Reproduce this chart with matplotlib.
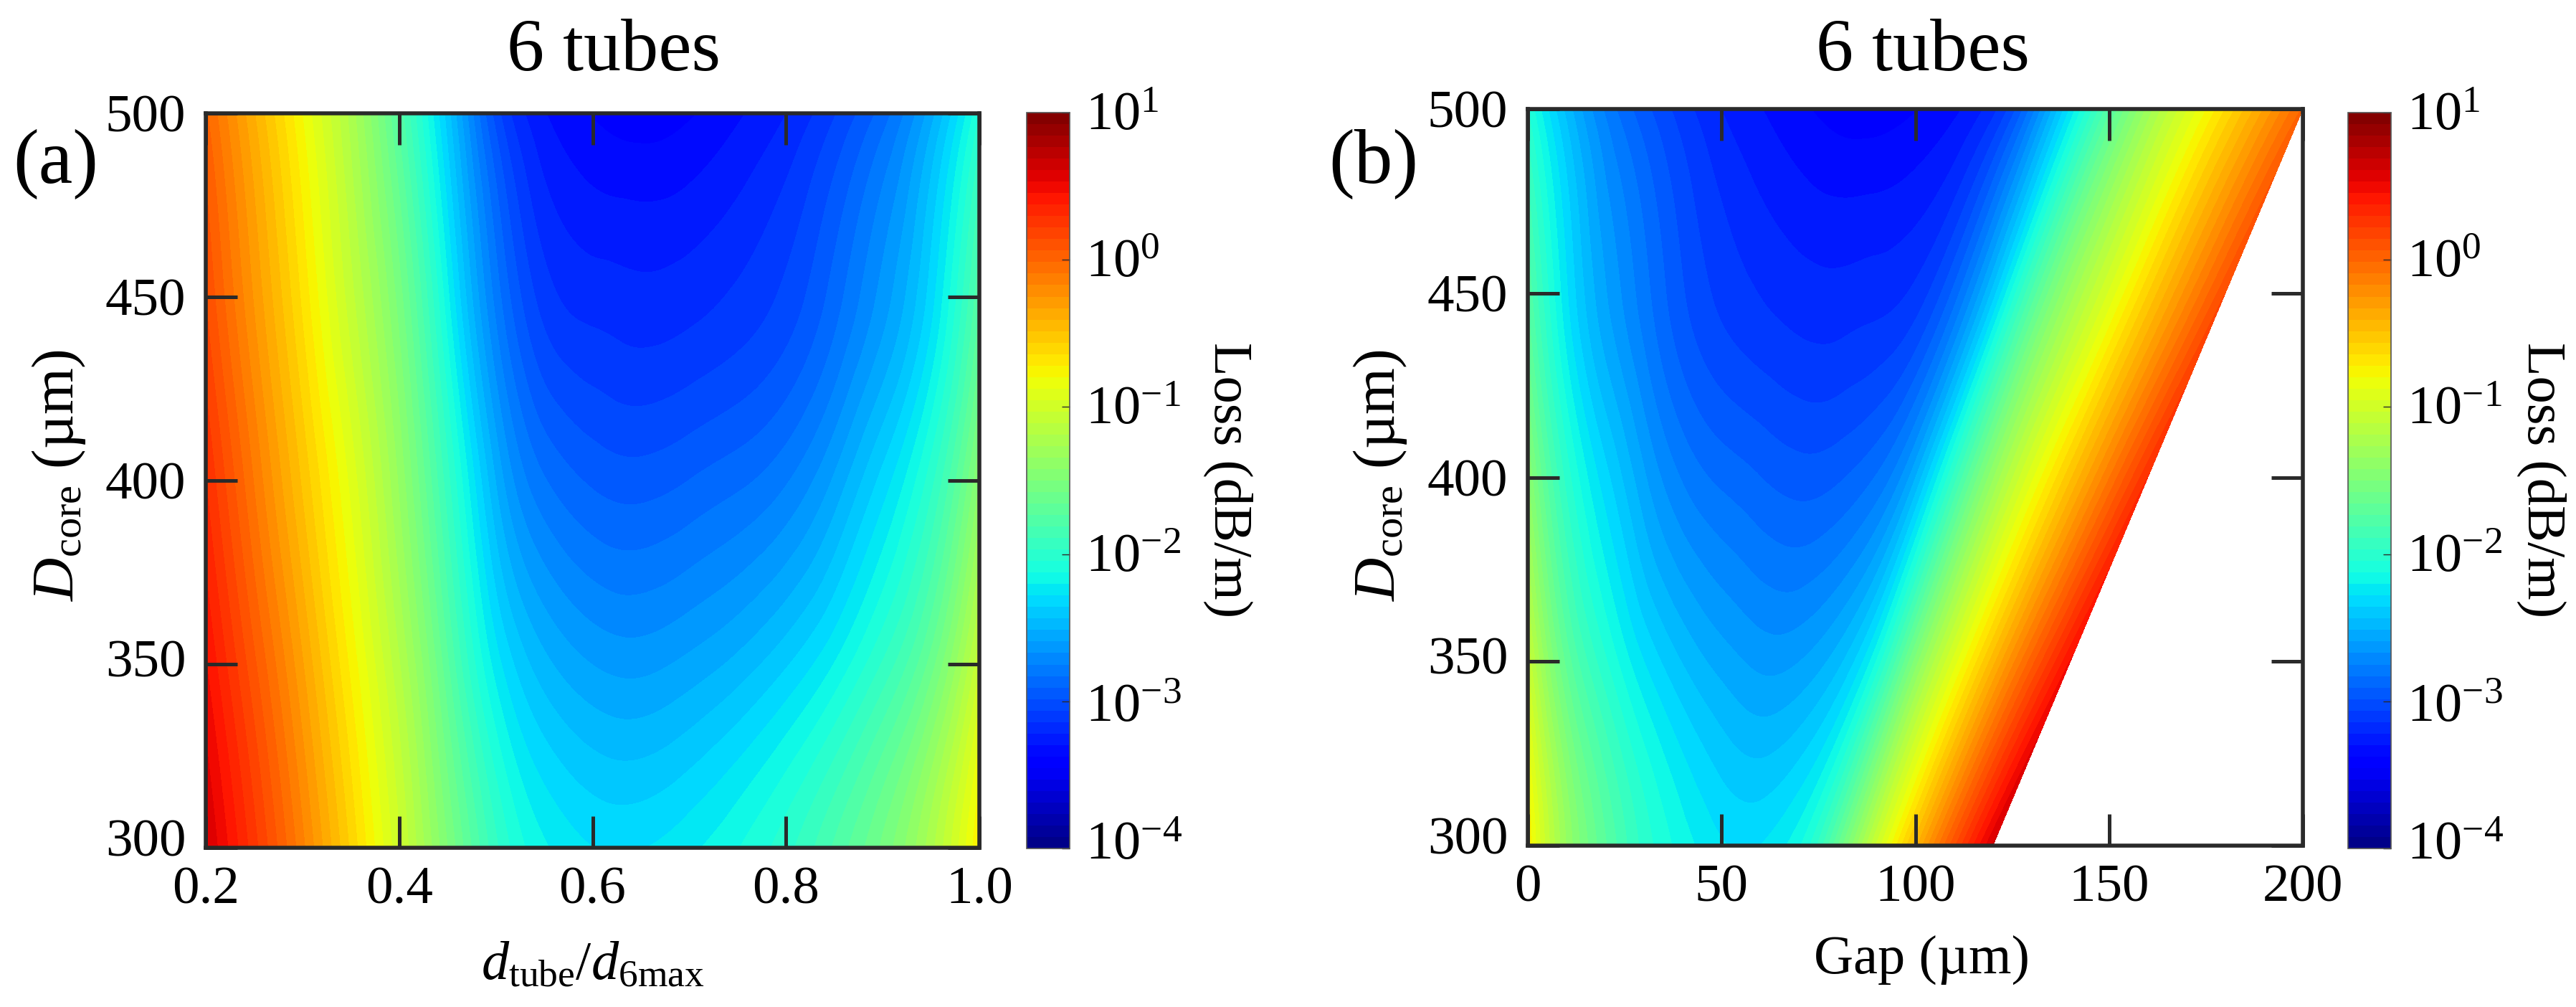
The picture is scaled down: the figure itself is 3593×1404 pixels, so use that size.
import numpy as np
import matplotlib
matplotlib.use('Agg')
import matplotlib.pyplot as plt
import matplotlib.tri as mtri
from matplotlib.transforms import Affine2D

plt.rcParams['font.family'] = ['Liberation Serif', 'DejaVu Serif']
plt.rcParams['mathtext.fontset'] = 'custom'
plt.rcParams['mathtext.rm'] = 'Liberation Serif'
plt.rcParams['mathtext.it'] = 'Liberation Serif:italic'
plt.rcParams['mathtext.bf'] = 'Liberation Serif:bold'

W, H = 3593, 1404
INK = '#2a2a2a'

# log10(loss) against d_tube/d_6max (columns) and D_core (rows)
ratio = [0.20, 0.25, 0.30, 0.35, 0.40, 0.45, 0.50, 0.55, 0.60,
         0.65, 0.70, 0.75, 0.80, 0.85, 0.90, 0.95, 1.00]
d_core = [300, 350, 400, 450, 500]
log_loss_300 = [0.62, 0.25, -0.15, -0.58, -1.02, -1.50, -1.95, -2.19, -2.28,
                -2.285, -2.225, -2.13, -2.00, -1.80, -1.56, -1.22, -0.72]
log_loss_350 = [0.46, 0.08, -0.32, -0.74, -1.18, -1.72, -2.24, -2.49, -2.595,
                -2.62, -2.57, -2.49, -2.37, -2.20, -1.96, -1.62, -1.05]
log_loss_400 = [0.30, -0.10, -0.50, -0.90, -1.36, -1.94, -2.52, -2.82, -2.92,
                -2.945, -2.905, -2.85, -2.76, -2.58, -2.33, -2.00, -1.42]
log_loss_450 = [0.14, -0.26, -0.66, -1.08, -1.54, -2.18, -2.78, -3.10, -3.175,
                -3.195, -3.175, -3.125, -3.04, -2.87, -2.64, -2.32, -1.75]
log_loss_500 = [0.00, -0.40, -0.80, -1.22, -1.76, -2.40, -3.02, -3.29, -3.38,
                -3.42, -3.385, -3.31, -3.22, -3.07, -2.87, -2.55, -2.05]

cbar_exponents = [-4, -3, -2, -1, 0, 1]
ticks_ratio = [0.2, 0.4, 0.6, 0.8, 1.0]
ticks_gap = [0, 50, 100, 150, 200]
ticks_core = [300, 350, 400, 450, 500]

table = np.array([log_loss_300, log_loss_350, log_loss_400, log_loss_450, log_loss_500])
X, Y = np.meshgrid(ratio, d_core)
# interpolation is done in normalised coordinates so the mesh stays well shaped
refiner = mtri.UniformTriRefiner(mtri.Triangulation((X.ravel() - 0.2) / 0.8, (Y.ravel() - 300) / 200.0))
fine, fine_z = refiner.refine_field(table.ravel(), subdiv=4)
fine_ratio = fine.x * 0.8 + 0.2
fine_core = fine.y * 200 + 300
# six-tube geometry: gap between neighbouring tubes
fine_gap = fine_core * (1 - fine_ratio) / 2

levels = np.linspace(-4, 1, 65)


def box(x0, x1, y0, y1):
    return [x0 / W, 1 - y1 / H, (x1 - x0) / W, (y1 - y0) / H]


def shift(label, dx, dy):
    label.set_transform(label.get_transform() + Affine2D().translate(dx, dy))


fig = plt.figure(figsize=(W / 100, H / 100), dpi=100, facecolor='white')


def panel(rect, crect, px, py, xlim, xticks, xfmt, xlabel, xlabel_x, xlabel_y,
          title_x, letter, letter_x, ylabel_x, lab_x):
    ax = fig.add_axes(box(*rect))
    cs = ax.tricontourf(mtri.Triangulation(px, py, fine.triangles), fine_z, levels=levels,
                        cmap='jet', vmin=-4, vmax=1)
    ax.set_xlim(*xlim)
    ax.set_ylim(300, 500)
    ax.set_xticks(xticks)
    ax.set_xticklabels([xfmt(v) for v in xticks])
    ax.set_yticks(ticks_core)
    ax.tick_params(axis='both', which='major', direction='in', top=True, right=True,
                   length=32, width=3.6, color=INK, labelsize=54, pad=19)
    ax.tick_params(axis='y', pad=20)
    for s in ax.spines.values():
        s.set_linewidth(4)
        s.set_color(INK)
    for lab, v in zip(ax.get_yticklabels(), ticks_core):
        if v == 300:
            shift(lab, 0, 14)
        if v == 350:
            shift(lab, 0, 8)
    fig.text(xlabel_x / W, 1 - xlabel_y / H, xlabel, fontsize=55, ha='center', va='center', color='black')
    fig.text(ylabel_x / W, 1 - 662 / H, r'$\mathit{D}_{\mathrm{core}}$ (µm)', fontsize=60, rotation=90,
             ha='center', va='center', color='black')
    fig.text(title_x / W, 1 - 73 / H, '6 tubes', fontsize=75, ha='center', va='center', color='black')
    fig.text(letter_x / W, 1 - 229 / H, letter, fontsize=77, ha='center', va='center', color='black')

    cax = fig.add_axes(box(*crect))
    cb = fig.colorbar(cs, cax=cax, ticks=cbar_exponents, drawedges=False)
    cb.ax.set_yticklabels([r'$\mathrm{10^{%s}}$' % (('\u2212%d' % -e) if e < 0 else str(e)) for e in cbar_exponents])
    cb.ax.tick_params(axis='y', direction='in', length=8, width=1, color=INK, labelsize=55, pad=16)
    cb.outline.set_linewidth(1.2)
    cb.outline.set_edgecolor('#555555')
    for lab, e in zip(cb.ax.get_yticklabels(), cbar_exponents):
        lab.set_va('baseline')
        shift(lab, 0, -24 + (9 if e == -4 else (-4 if e == -3 else 0)))
    fig.text(lab_x / W, 1 - 669 / H, 'Loss (dB/m)', fontsize=55, rotation=270,
             ha='center', va='center', color='black')
    return ax


panel((287, 1366, 158, 1182), (1432, 1492, 157, 1183), fine_ratio, fine_core, (0.2, 1.0),
      ticks_ratio, lambda v: '%.1f' % v,
      r'$\mathit{d}_{\mathrm{tube}}/\mathit{d}_{\mathrm{6max}}$', 827, 1347, 856, '(a)', 78, 82, 1713)
panel((2131, 3212, 152, 1179), (3275, 3335, 157, 1183), fine_gap, fine_core, (0, 200),
      ticks_gap, lambda v: '%d' % v,
      'Gap (µm)', 2680, 1338, 2682, '(b)', 1916, 1925, 3545)

fig.savefig('out.png', dpi=100, facecolor='white')
